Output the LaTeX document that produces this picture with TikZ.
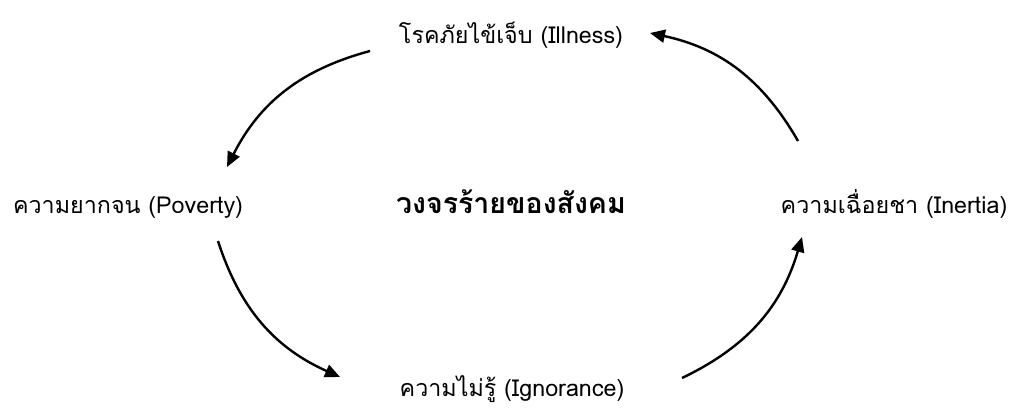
\documentclass[tikz,border=0pt]{standalone}
\usepackage{fontspec}
\newfontfamily\thaifont[Script=Thai]{Loma}
\usetikzlibrary{arrows.meta}
\begin{document}
\begin{tikzpicture}[x=1pt,y=1pt,
  lbl/.style={anchor=base,inner sep=0pt,font=\thaifont\fontsize{23.3}{28}\selectfont},
  ttl/.style={anchor=base,inner sep=0pt,font=\thaifont\bfseries\fontsize{28.5}{34}\selectfont},
  cyc/.style={line width=2.4pt,-{Triangle[length=15pt,width=13pt]}}]
\useasboundingbox (0,0) rectangle (1013,-408);
\node[lbl] (ill) at (511,-43) {โรคภัยไข้เจ็บ (Illness)};
\node[lbl] (pov) at (128,-213) {ความยากจน (Poverty)};
\node[ttl] (ttl) at (511,-213) {วงจรร้ายของสังคม};
\node[lbl] (ine) at (894,-213) {ความเฉื่อยชา (Inertia)};
\node[lbl] (ign) at (512,-396) {ความไม่รู้ (Ignorance)};
\coordinate (a1s) at (370,-51);
\coordinate (a1e) at (227,-167);
\coordinate (a2s) at (218,-241);
\coordinate (a2e) at (340,-377);
\coordinate (a3s) at (682,-378);
\coordinate (a3e) at (802,-237);
\coordinate (a4s) at (798,-141);
\coordinate (a4e) at (650,-33);
\draw[cyc] (a1s) to[bend right=24] (a1e);
\draw[cyc] (a2s) to[bend right=24] (a2e);
\draw[cyc] (a3s) to[bend right=24] (a3e);
\draw[cyc] (a4s) to[bend right=24] (a4e);
\end{tikzpicture}
\end{document}
